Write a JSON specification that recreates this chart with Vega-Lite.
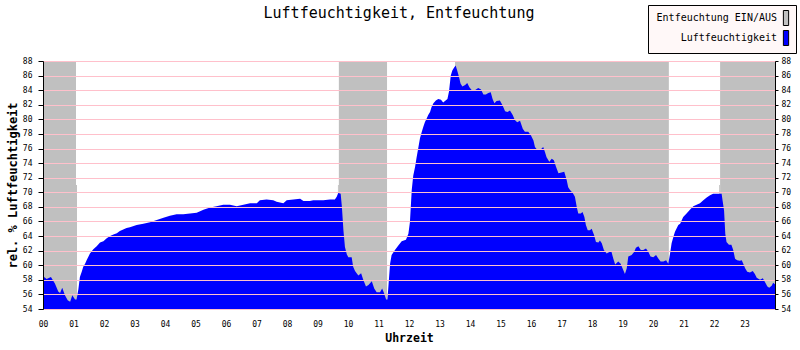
{
  "$schema": "https://vega.github.io/schema/vega-lite/v6.json",
  "width": 732,
  "height": 248,
  "autosize": {"type": "none"},
  "padding": {"left": 43, "top": 61, "right": 25, "bottom": 41},
  "background": "white",
  "title": {
    "text": "Luftfeuchtigkeit, Entfeuchtung",
    "font": "DejaVu Sans Mono",
    "fontSize": 15,
    "fontWeight": "normal",
    "color": "black",
    "anchor": "middle",
    "frame": "group",
    "dx": -10,
    "baseline": "alphabetic",
    "offset": -28
  },
  "config": {
    "view": {"stroke": null},
    "font": "DejaVu Sans Mono",
    "axis": {"labelOverlap": false, "labelBound": false},
    "axisX": {
      "labelExpr": "datum.value >= 24 ? '' : (datum.value < 10 ? '0' + datum.value : '' + datum.value)",
      "grid": false, "ticks": false, "tickSize": 0, "labelPadding": 11,
      "labelBaseline": "top", "labelFont": "DejaVu Sans Mono", "labelFontSize": 8,
      "labelColor": "black", "labelFlush": false, "labelOverlap": false, "labelSeparation": -25,
      "domainColor": "black", "domainWidth": 1, "zindex": 1,
      "titleFont": "DejaVu Sans Mono", "titleFontSize": 11.5,
      "titleFontWeight": "bold", "titleColor": "black", "titleBaseline": "middle",
      "titleX": 366, "titleY": 29, "titleAnchor": "middle"
    },
    "legend": {
      "orient": "none",
      "legendX": 605,
      "legendY": -56,
      "labelFont": "DejaVu Sans Mono",
      "labelFontSize": 10,
      "labelColor": "black",
      "labelAlign": "right",
      "labelOffset": -17,
      "symbolOffset": 125,
      "symbolType": "M-0.35,-1L0.35,-1L0.35,1L-0.35,1Z",
      "symbolSize": 225,
      "symbolStrokeColor": "black",
      "symbolStrokeWidth": 1,
      "fillColor": "#FFF8F8",
      "strokeColor": "black",
      "padding": 5,
      "rowPadding": 0
    }
  },
  "datasets": {
    "bands": [
      {"start": 0, "end": 1.082, "top": 88},
      {"start": 1.082, "end": 1.115, "top": 71},
      {"start": 9.67, "end": 9.70, "top": 71},
      {"start": 9.70, "end": 11.28, "top": 88},
      {"start": 13.51, "end": 20.52, "top": 88},
      {"start": 22.17, "end": 22.20, "top": 71},
      {"start": 22.20, "end": 24, "top": 88}
    ],
    "humidity": [
      {"h": 0, "v": 58.5}, {"h": 0.12, "v": 58.1}, {"h": 0.26, "v": 58.4}, {"h": 0.39, "v": 57.5},
      {"h": 0.5, "v": 56.4}, {"h": 0.56, "v": 56.2}, {"h": 0.63, "v": 56.9}, {"h": 0.72, "v": 55.9},
      {"h": 0.81, "v": 55.2}, {"h": 0.89, "v": 55.0}, {"h": 0.96, "v": 55.9}, {"h": 1.05, "v": 55.3},
      {"h": 1.1, "v": 55.3}, {"h": 1.16, "v": 56.7}, {"h": 1.21, "v": 58.4}, {"h": 1.27, "v": 59.1},
      {"h": 1.32, "v": 59.8}, {"h": 1.38, "v": 60.2}, {"h": 1.43, "v": 60.7}, {"h": 1.54, "v": 61.6},
      {"h": 1.65, "v": 62.2}, {"h": 1.76, "v": 62.6}, {"h": 1.87, "v": 63.1}, {"h": 1.98, "v": 63.3},
      {"h": 2.09, "v": 63.7}, {"h": 2.2, "v": 64.0}, {"h": 2.31, "v": 64.2}, {"h": 2.42, "v": 64.4},
      {"h": 2.52, "v": 64.7}, {"h": 2.63, "v": 64.9}, {"h": 2.74, "v": 65.1}, {"h": 2.85, "v": 65.2},
      {"h": 3.07, "v": 65.5}, {"h": 3.29, "v": 65.7}, {"h": 3.51, "v": 65.9}, {"h": 3.73, "v": 66.2},
      {"h": 3.95, "v": 66.5}, {"h": 4.16, "v": 66.8}, {"h": 4.38, "v": 67.0}, {"h": 4.6, "v": 67.0},
      {"h": 4.82, "v": 67.1}, {"h": 5.04, "v": 67.2}, {"h": 5.26, "v": 67.6}, {"h": 5.48, "v": 67.9},
      {"h": 5.69, "v": 68.1}, {"h": 5.91, "v": 68.3}, {"h": 6.13, "v": 68.3}, {"h": 6.35, "v": 68.1},
      {"h": 6.57, "v": 68.3}, {"h": 6.79, "v": 68.5}, {"h": 7.01, "v": 68.5}, {"h": 7.11, "v": 68.9},
      {"h": 7.33, "v": 69.0}, {"h": 7.55, "v": 68.9}, {"h": 7.66, "v": 68.7}, {"h": 7.88, "v": 68.5},
      {"h": 7.99, "v": 68.9}, {"h": 8.21, "v": 69.0}, {"h": 8.43, "v": 69.1}, {"h": 8.54, "v": 68.8},
      {"h": 8.75, "v": 68.8}, {"h": 8.86, "v": 68.9}, {"h": 9.19, "v": 68.9}, {"h": 9.41, "v": 69.0},
      {"h": 9.57, "v": 69.0}, {"h": 9.63, "v": 69.4}, {"h": 9.68, "v": 69.9}, {"h": 9.76, "v": 69.8},
      {"h": 9.8, "v": 68.0}, {"h": 9.85, "v": 64.8}, {"h": 9.9, "v": 62.5}, {"h": 9.96, "v": 61.5},
      {"h": 10.01, "v": 61.1}, {"h": 10.12, "v": 61.1}, {"h": 10.17, "v": 59.8}, {"h": 10.23, "v": 59.2},
      {"h": 10.34, "v": 58.6}, {"h": 10.43, "v": 58.9}, {"h": 10.5, "v": 58.0}, {"h": 10.59, "v": 57.1},
      {"h": 10.67, "v": 57.3}, {"h": 10.78, "v": 57.8}, {"h": 10.86, "v": 56.8}, {"h": 10.94, "v": 56.3},
      {"h": 11.05, "v": 56.3}, {"h": 11.12, "v": 56.8}, {"h": 11.18, "v": 56.2}, {"h": 11.25, "v": 55.3},
      {"h": 11.29, "v": 55.3}, {"h": 11.32, "v": 56.8}, {"h": 11.38, "v": 60.2}, {"h": 11.43, "v": 61.4},
      {"h": 11.54, "v": 62.1}, {"h": 11.65, "v": 62.7}, {"h": 11.76, "v": 63.3}, {"h": 11.9, "v": 63.5},
      {"h": 11.98, "v": 64.3}, {"h": 12.03, "v": 65.9}, {"h": 12.09, "v": 70.3}, {"h": 12.14, "v": 72.3},
      {"h": 12.2, "v": 73.5}, {"h": 12.25, "v": 74.8}, {"h": 12.31, "v": 76.2}, {"h": 12.36, "v": 77.4},
      {"h": 12.42, "v": 78.3}, {"h": 12.47, "v": 79.0}, {"h": 12.52, "v": 79.6}, {"h": 12.58, "v": 80.1},
      {"h": 12.63, "v": 80.6}, {"h": 12.69, "v": 81.0}, {"h": 12.74, "v": 81.7}, {"h": 12.8, "v": 82.2},
      {"h": 12.88, "v": 82.6}, {"h": 12.96, "v": 82.8}, {"h": 13.05, "v": 82.7}, {"h": 13.12, "v": 82.3},
      {"h": 13.2, "v": 82.6}, {"h": 13.26, "v": 82.8}, {"h": 13.31, "v": 83.8}, {"h": 13.37, "v": 86.0},
      {"h": 13.42, "v": 86.7}, {"h": 13.48, "v": 87.1}, {"h": 13.53, "v": 87.4}, {"h": 13.58, "v": 86.7},
      {"h": 13.64, "v": 85.8}, {"h": 13.69, "v": 84.9}, {"h": 13.75, "v": 84.5}, {"h": 13.84, "v": 84.7},
      {"h": 13.91, "v": 85.0}, {"h": 13.98, "v": 84.4}, {"h": 14.08, "v": 83.9}, {"h": 14.16, "v": 84.0},
      {"h": 14.27, "v": 84.3}, {"h": 14.36, "v": 84.1}, {"h": 14.44, "v": 83.4}, {"h": 14.52, "v": 83.4},
      {"h": 14.6, "v": 83.6}, {"h": 14.68, "v": 83.7}, {"h": 14.74, "v": 82.8}, {"h": 14.8, "v": 82.2},
      {"h": 14.87, "v": 82.5}, {"h": 14.98, "v": 82.6}, {"h": 15.07, "v": 81.9}, {"h": 15.15, "v": 81.1},
      {"h": 15.23, "v": 81.0}, {"h": 15.31, "v": 81.2}, {"h": 15.4, "v": 80.6}, {"h": 15.47, "v": 79.9},
      {"h": 15.55, "v": 79.6}, {"h": 15.64, "v": 79.8}, {"h": 15.73, "v": 78.7}, {"h": 15.8, "v": 78.3},
      {"h": 15.91, "v": 78.3}, {"h": 16.0, "v": 77.8}, {"h": 16.08, "v": 77.1}, {"h": 16.13, "v": 76.2},
      {"h": 16.21, "v": 75.8}, {"h": 16.3, "v": 75.8}, {"h": 16.4, "v": 76.2}, {"h": 16.46, "v": 75.5},
      {"h": 16.51, "v": 74.8}, {"h": 16.6, "v": 74.2}, {"h": 16.68, "v": 74.6}, {"h": 16.75, "v": 74.4},
      {"h": 16.82, "v": 73.5}, {"h": 16.9, "v": 72.6}, {"h": 17.0, "v": 72.7}, {"h": 17.09, "v": 72.8},
      {"h": 17.17, "v": 71.7}, {"h": 17.22, "v": 70.7}, {"h": 17.28, "v": 70.3}, {"h": 17.37, "v": 69.9},
      {"h": 17.44, "v": 69.4}, {"h": 17.5, "v": 68.0}, {"h": 17.55, "v": 67.1}, {"h": 17.63, "v": 67.1},
      {"h": 17.69, "v": 67.3}, {"h": 17.75, "v": 66.6}, {"h": 17.8, "v": 65.5}, {"h": 17.86, "v": 64.8},
      {"h": 17.93, "v": 64.8}, {"h": 17.99, "v": 65.0}, {"h": 18.07, "v": 64.1}, {"h": 18.13, "v": 63.2},
      {"h": 18.21, "v": 63.1}, {"h": 18.26, "v": 63.4}, {"h": 18.32, "v": 63.0}, {"h": 18.39, "v": 62.1},
      {"h": 18.48, "v": 61.6}, {"h": 18.57, "v": 61.8}, {"h": 18.64, "v": 61.8}, {"h": 18.7, "v": 60.9},
      {"h": 18.76, "v": 60.1}, {"h": 18.86, "v": 60.5}, {"h": 18.94, "v": 60.2}, {"h": 19.0, "v": 59.6},
      {"h": 19.08, "v": 58.8}, {"h": 19.14, "v": 59.6}, {"h": 19.19, "v": 61.2}, {"h": 19.3, "v": 61.4},
      {"h": 19.38, "v": 61.8}, {"h": 19.44, "v": 62.4}, {"h": 19.52, "v": 62.6}, {"h": 19.6, "v": 62.1},
      {"h": 19.68, "v": 62.1}, {"h": 19.77, "v": 62.3}, {"h": 19.85, "v": 61.8}, {"h": 19.92, "v": 61.2},
      {"h": 20.01, "v": 61.1}, {"h": 20.1, "v": 61.4}, {"h": 20.18, "v": 60.9}, {"h": 20.25, "v": 60.5},
      {"h": 20.34, "v": 60.5}, {"h": 20.43, "v": 60.7}, {"h": 20.5, "v": 60.2}, {"h": 20.56, "v": 61.6},
      {"h": 20.61, "v": 63.0}, {"h": 20.67, "v": 63.9}, {"h": 20.72, "v": 64.6}, {"h": 20.83, "v": 65.5},
      {"h": 20.89, "v": 65.7}, {"h": 20.99, "v": 66.6}, {"h": 21.1, "v": 67.1}, {"h": 21.21, "v": 67.6},
      {"h": 21.32, "v": 68.1}, {"h": 21.43, "v": 68.3}, {"h": 21.54, "v": 68.5}, {"h": 21.65, "v": 68.9},
      {"h": 21.76, "v": 69.3}, {"h": 21.87, "v": 69.6}, {"h": 21.97, "v": 69.8}, {"h": 22.08, "v": 69.8},
      {"h": 22.25, "v": 69.8}, {"h": 22.28, "v": 68.9}, {"h": 22.33, "v": 67.5}, {"h": 22.37, "v": 64.3},
      {"h": 22.41, "v": 63.2}, {"h": 22.49, "v": 62.8}, {"h": 22.57, "v": 62.8}, {"h": 22.63, "v": 62.1},
      {"h": 22.69, "v": 60.9}, {"h": 22.76, "v": 60.7}, {"h": 22.85, "v": 60.6}, {"h": 22.91, "v": 60.7},
      {"h": 22.96, "v": 60.2}, {"h": 23.02, "v": 59.6}, {"h": 23.09, "v": 59.1}, {"h": 23.18, "v": 59.0},
      {"h": 23.27, "v": 59.2}, {"h": 23.34, "v": 58.8}, {"h": 23.4, "v": 58.3}, {"h": 23.51, "v": 58.0},
      {"h": 23.6, "v": 58.2}, {"h": 23.67, "v": 57.7}, {"h": 23.75, "v": 57.1}, {"h": 23.81, "v": 56.9},
      {"h": 23.89, "v": 57.2}, {"h": 23.94, "v": 57.6}, {"h": 24.0, "v": 57.4}
    ]
  },
  "resolve": {"axis": {"y": "independent"}},
  "layer": [
    {
      "data": {"name": "bands"},
      "mark": {"type": "rect", "clip": true},
      "encoding": {
        "x": {
          "field": "start", "type": "quantitative",
          "scale": {"domain": [0, 24], "nice": false, "zero": false},
          "axis": {"title": "Uhrzeit", "labelOverlap": false, "tickCount": 24}
        },
        "x2": {"field": "end"},
        "y": {
          "field": "top", "type": "quantitative",
          "scale": {"domain": [54, 88], "nice": false, "zero": false},
          "axis": {
            "orient": "left",
            "values": [54,56,58,60,62,64,66,68,70,72,74,76,78,80,82,84,86,88],
            "grid": true, "gridColor": "#FFC0CB", "gridWidth": 1, "gridOpacity": 1,
            "tickSize": 5, "tickColor": "black", "labelPadding": 6,
            "labelFont": "DejaVu Sans Mono", "labelFontSize": 8, "labelColor": "black",
            "labelFlush": false, "labelOverlap": false,
            "domainColor": "black", "zindex": 1,
            "title": "rel. % Luftfeuchtigkeit", "titleFont": "DejaVu Sans Mono",
            "titleFontSize": 12, "titleFontWeight": "bold", "titleColor": "black",
            "titleBaseline": "middle", "titleX": -31, "titleY": 124, "titleAnchor": "middle"
          }
        },
        "y2": {"datum": 54},
        "color": {
          "datum": "Entfeuchtung EIN/AUS", "type": "nominal",
          "scale": {"domain": ["Entfeuchtung EIN/AUS", "Luftfeuchtigkeit"], "range": ["#C0C0C0", "#0000FF"]},
          "legend": {"title": null}
        }
      }
    },
    {
      "data": {"name": "humidity"},
      "mark": {"type": "area", "clip": true, "interpolate": "linear"},
      "encoding": {
        "x": {"field": "h", "type": "quantitative", "axis": {"title": "Uhrzeit", "labelOverlap": false, "tickCount": 24}},
        "y": {
          "field": "v", "type": "quantitative",
          "axis": {
            "orient": "right",
            "values": [54,56,58,60,62,64,66,68,70,72,74,76,78,80,82,84,86,88],
            "grid": false, "tickSize": 3, "tickColor": "black", "labelPadding": 3,
            "labelFont": "DejaVu Sans Mono", "labelFontSize": 8, "labelColor": "black",
            "labelFlush": false, "labelOverlap": false,
            "domainColor": "black", "zindex": 1, "title": null
          }
        },
        "color": {"datum": "Luftfeuchtigkeit", "type": "nominal"}
      }
    }
  ]
}
